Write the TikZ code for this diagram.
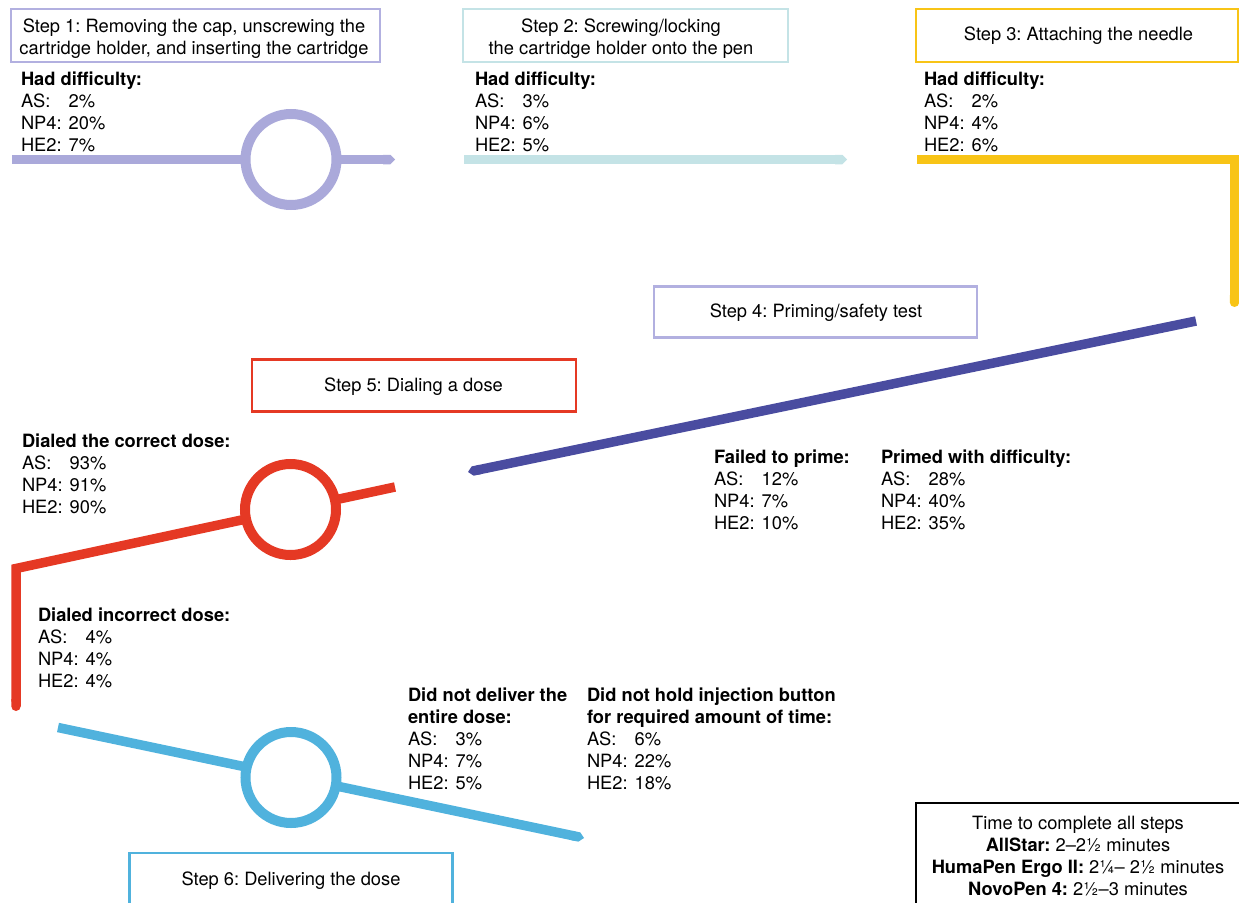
\documentclass[tikz,border=0pt]{standalone}
\usepackage{fontspec}
\setmainfont{TeX Gyre Heros}
\usetikzlibrary{arrows.meta}
\definecolor{lav}{RGB}{170,169,218}
\definecolor{lavbox}{RGB}{178,176,224}
\definecolor{tealtwo}{RGB}{196,227,230}
\definecolor{yel}{RGB}{248,196,22}
\definecolor{dblue}{RGB}{74,76,160}
\definecolor{redfive}{RGB}{229,57,36}
\definecolor{lblue}{RGB}{80,178,221}
\frenchspacing
\newcommand{\hd}[1]{\multicolumn{2}{@{}l@{}}{\bfseries #1}}
\newcommand{\stat}[4]{\begin{tabular}[t]{@{}l@{\hspace{7pt}}l@{}}#1\\AS: & #2\\NP4: & #3\\HE2: & #4\end{tabular}}
\newcommand{\ctab}[1]{\begin{tabular}[t]{@{}c@{}}#1\end{tabular}}
\tikzset{
  every node/.style={font=\fontsize{18.3}{22}\selectfont, inner sep=0pt, outer sep=0pt},
  stepbox/.style={draw, line width=2.5pt, minimum height=53pt, fill=white},
  track/.style={line width=9.5pt},
  ring/.style={circle, line width=10pt, minimum size=91pt, fill=white, draw},
  info/.style={anchor=base west},
  label/.style={anchor=base},
}
\begin{document}
\begin{tikzpicture}[x=1pt,y=-1pt]
\useasboundingbox (0,0) rectangle (1239,902);
% ---------- track coordinates
\coordinate (a1) at (12,159.5);   \coordinate (a2) at (395,159.5);
\coordinate (b1) at (464,159.5);  \coordinate (b2) at (847,159.5);
\coordinate (y1) at (917,159.5);  \coordinate (y2) at (1234.5,159.5); \coordinate (y3) at (1234.5,307);
\coordinate (d1) at (1196,321);   \coordinate (d2) at (468,472);
\coordinate (r1) at (395,487);    \coordinate (r2) at (16,568.5);     \coordinate (r3) at (16,711);
\coordinate (e1) at (58,727.5);   \coordinate (e2) at (584,838);
% ---------- tracks
\draw[track, lav, -{Triangle Cap[]}] (a1) -- (a2);
\draw[track, tealtwo, -{Triangle Cap[]}] (b1) -- (b2);
\draw[track, yel, -{Round Cap[]}] (y1) -- (y2) -- (y3);
\draw[track, dblue, -{Triangle Cap[]}] (d1) -- (d2);
\draw[track, redfive, -{Round Cap[]}] (r1) -- (r2) -- (r3);
\draw[track, lblue, -{Triangle Cap[]}] (e1) -- (e2);
% ---------- rings
\node[ring, draw=lav] (c1) at (291,159.5) {};
\node[ring, draw=redfive] (c5) at (290.5,509.5) {};
\node[ring, draw=lblue] (c6) at (291,777.5) {};
% ---------- step boxes
\node[stepbox, draw=lavbox, minimum width=369pt] (s1) at (195.5,35.5) {};
\node[label] (s1t) at (194,32) {\ctab{Step 1: Removing the cap, unscrewing the\\cartridge holder, and inserting the cartridge}};
\node[stepbox, draw=tealtwo, minimum width=325pt] (s2) at (625.5,35.5) {};
\node[label] (s2t) at (621,32) {\ctab{Step 2: Screwing/locking\\the cartridge holder onto the pen}};
\node[stepbox, draw=yel, minimum width=322pt] (s3) at (1077,35.5) {};
\node[label] (s3t) at (1078.5,40.5) {Step 3: Attaching the needle};
\node[stepbox, draw=lavbox, minimum width=323pt, minimum height=51pt] (s4) at (815.5,312) {};
\node[label] (s4t) at (816,317.5) {Step 4: Priming/safety test};
\node[stepbox, draw=redfive, minimum width=324pt, minimum height=52pt] (s5) at (414,385.5) {};
\node[label] (s5t) at (413.5,391.5) {Step 5: Dialing a dose};
\node[stepbox, draw=lblue, minimum width=323pt, minimum height=56pt] (s6) at (291,881) {};
\node[label] (s6t) at (291,885.5) {Step 6: Delivering the dose};
% ---------- statistics
\node[info] (t1) at (21,85) {\stat{\hd{Had difficulty:}}{2\%}{20\%}{7\%}};
\node[info] (t2) at (475,85) {\stat{\hd{Had difficulty:}}{3\%}{6\%}{5\%}};
\node[info] (t3) at (924,85) {\stat{\hd{Had difficulty:}}{2\%}{4\%}{6\%}};
\node[info] (t4a) at (714,463) {\stat{\hd{Failed to prime:}}{12\%}{7\%}{10\%}};
\node[info] (t4b) at (881,463) {\stat{\hd{Primed with difficulty:}}{28\%}{40\%}{35\%}};
\node[info] (t5a) at (22,447) {\stat{\hd{Dialed the correct dose:}}{93\%}{91\%}{90\%}};
\node[info] (t5b) at (38,621) {\stat{\hd{Dialed incorrect dose:}}{4\%}{4\%}{4\%}};
\node[info] (t6a) at (408,701) {\stat{\hd{Did not deliver the}\\\hd{entire dose:}}{3\%}{7\%}{5\%}};
\node[info] (t6b) at (587,701) {\stat{\hd{Did not hold injection button}\\\hd{for required amount of time:}}{6\%}{22\%}{18\%}};
% ---------- time box
\node[draw=black, line width=2pt, minimum width=332pt, minimum height=106pt] (tb) at (1082,855.5) {};
\node[label] (tbt) at (1078,829) {\ctab{Time to complete all steps\\\textbf{AllStar:} 2–2½ minutes\\\textbf{HumaPen Ergo II:} 2¼– 2½ minutes\\\textbf{NovoPen 4:} 2½–3 minutes}};
\end{tikzpicture}
\end{document}
